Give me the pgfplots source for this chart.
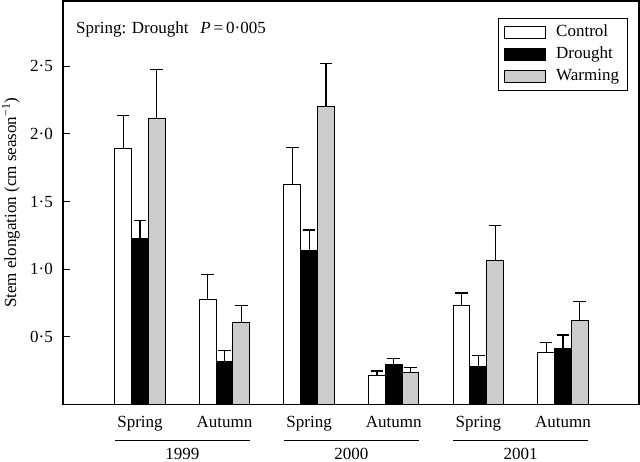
\documentclass[border=0pt]{standalone}
\usepackage{fontspec}
\setmainfont{Liberation Serif}
\usepackage{pgfplots}
\pgfplotsset{compat=1.18}
\definecolor{warmgray}{HTML}{CCCCCC}
\begin{document}
\fontsize{17}{20}\selectfont
\begin{tikzpicture}
\pgfplotsset{
  leg/.style={legend image code/.code={\draw[##1, line width=1pt] (0pt,-6pt) rectangle (41pt,6pt);}},
  eb/.style={error bars/.cd, y dir=plus, y explicit,
    error bar style={line width=1.2pt, black},
    error mark options={rotate=90, mark size=6.3pt, line width=1.2pt, black}},
}
\begin{axis}[
  at={(0,0)}, anchor=south west,
  scale only axis, width=576pt, height=403.5pt,
  font=\fontsize{17}{20}\selectfont,
  xmin=-0.910, xmax=5.899, ymin=0, ymax=2.982,
  ybar=0pt, bar width=16.8pt,
  clip=false,
  axis line style={line width=1.3pt},
  xtick={0,...,5}, xticklabels={Spring,Autumn,Spring,Autumn,Spring,Autumn},
  x tick style={draw=none},
  xticklabel style={yshift=-6pt},
  ytick={0.5,1,1.5,2,2.5}, yticklabels={0·5,1·0,1·5,2·0,2·5},
  ytick pos=left, tick align=inside, major tick length=7pt,
  y tick style={line width=1.2pt, black},
  yticklabel style={inner sep=0pt, xshift=-10pt},
  ylabel={Stem elongation (cm season\textsuperscript{−1})},
  ylabel style={at={(axis description cs:-0.0903,0.5)}, anchor=center},
  legend cell align=left,
  legend style={at={(rel axis cs:0.981,0.958)}, anchor=north east,
    draw=black, line width=1pt, inner xsep=5.5pt, inner ysep=3pt,
    nodes={inner sep=3pt, text height=12pt, text depth=4pt},
    column sep=7pt, row sep=0pt},
]
\addplot[fill=white, draw=black, line width=1pt, leg, eb] coordinates {
  (0,1.89) +- (0,0.245)
  (1,0.775) +- (0,0.185)
  (2,1.625) +- (0,0.275)
  (3,0.213) +- (0,0.035)
  (4,0.73) +- (0,0.094)
  (5,0.386) +- (0,0.072)
};
\addplot[fill=black, draw=black, line width=1pt, leg, eb] coordinates {
  (0,1.224) +- (0,0.136)
  (1,0.32) +- (0,0.08)
  (2,1.14) +- (0,0.15)
  (3,0.298) +- (0,0.044)
  (4,0.28) +- (0,0.084)
  (5,0.413) +- (0,0.10)
};
\addplot[fill=warmgray, draw=black, line width=1pt, leg, eb] coordinates {
  (0,2.11) +- (0,0.365)
  (1,0.606) +- (0,0.124)
  (2,2.20) +- (0,0.32)
  (3,0.236) +- (0,0.039)
  (4,1.065) +- (0,0.255)
  (5,0.62) +- (0,0.142)
};
\legend{Control,Drought,Warming}
\node[anchor=base west, inner sep=0pt] at ([xshift=13pt,yshift=-33pt]rel axis cs:0,1)
  {Spring: Drought\hspace{0.7em}\textit{P}\,=\,0·005};
\draw[line width=1pt] ([yshift=-36pt]axis cs:-0.298,0) -- ([yshift=-36pt]axis cs:1.298,0);
\draw[line width=1pt] ([yshift=-36pt]axis cs:1.702,0) -- ([yshift=-36pt]axis cs:3.298,0);
\draw[line width=1pt] ([yshift=-36pt]axis cs:3.702,0) -- ([yshift=-36pt]axis cs:5.298,0);
\node[anchor=base, inner sep=0pt] at ([yshift=-55pt]axis cs:0.5,0) {1999};
\node[anchor=base, inner sep=0pt] at ([yshift=-55pt]axis cs:2.5,0) {2000};
\node[anchor=base, inner sep=0pt] at ([yshift=-55pt]axis cs:4.5,0) {2001};
\end{axis}
\pgfresetboundingbox
\useasboundingbox (-63pt,-57.5pt) rectangle (577pt,404.5pt);
\end{tikzpicture}
\end{document}
